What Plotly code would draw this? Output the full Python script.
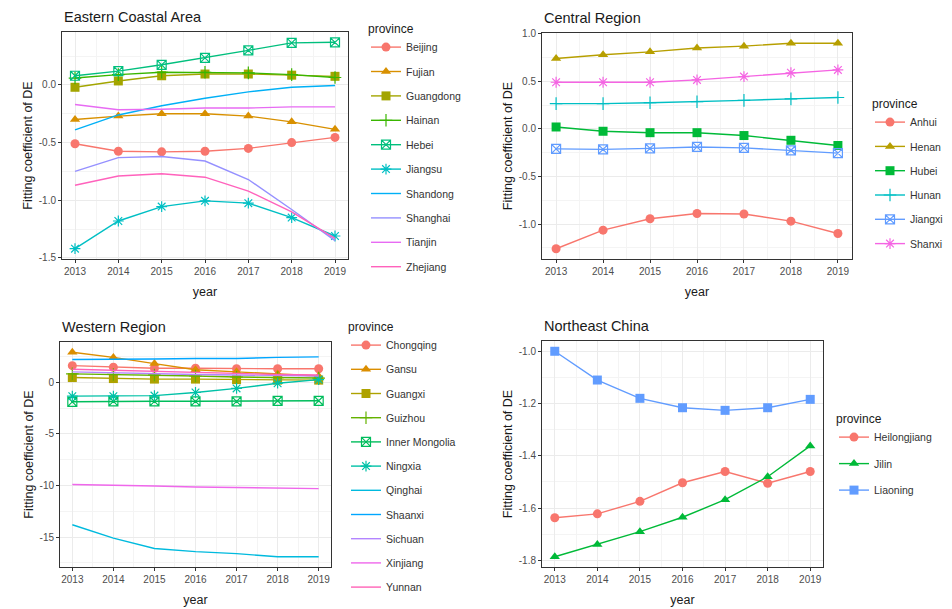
import plotly.graph_objects as go

W, H = 952, 609
years = [2013, 2014, 2015, 2016, 2017, 2018, 2019]

# Eastern Coastal Area
east_names = ["Beijing", "Fujian", "Guangdong", "Hainan", "Hebei", "Jiangsu",
              "Shandong", "Shanghai", "Tianjin", "Zhejiang"]
beijing = [-0.51, -0.575, -0.58, -0.575, -0.55, -0.50, -0.455]
fujian = [-0.30, -0.27, -0.25, -0.25, -0.27, -0.32, -0.385]
guangdong = [-0.02, 0.035, 0.08, 0.095, 0.095, 0.085, 0.075]
hainan = [0.06, 0.09, 0.11, 0.11, 0.105, 0.09, 0.065]
hebei = [0.08, 0.12, 0.175, 0.235, 0.30, 0.365, 0.37]
jiangsu = [-1.42, -1.18, -1.055, -1.005, -1.025, -1.15, -1.31]
shandong = [-0.39, -0.26, -0.18, -0.115, -0.06, -0.02, -0.005]
shanghai = [-0.75, -0.63, -0.62, -0.66, -0.82, -1.08, -1.35]
tianjin = [-0.17, -0.215, -0.21, -0.20, -0.20, -0.19, -0.19]
zhejiang = [-0.87, -0.79, -0.77, -0.80, -0.92, -1.10, -1.33]
east_vals = [beijing, fujian, guangdong, hainan, hebei, jiangsu,
             shandong, shanghai, tianjin, zhejiang]
east_ticks = [-1.5, -1.0, -0.5, 0.0]
east_tick_labels = ["-1.5", "-1.0", "-0.5", "0.0"]

# Central Region
central_names = ["Anhui", "Henan", "Hubei", "Hunan", "Jiangxi", "Shanxi"]
anhui = [-1.26, -1.065, -0.945, -0.89, -0.895, -0.97, -1.10]
henan = [0.74, 0.78, 0.81, 0.85, 0.87, 0.90, 0.90]
hubei = [0.02, -0.025, -0.04, -0.04, -0.07, -0.12, -0.175]
hunan = [0.265, 0.265, 0.275, 0.285, 0.30, 0.315, 0.33]
jiangxi = [-0.21, -0.215, -0.205, -0.19, -0.20, -0.225, -0.255]
shanxi = [0.49, 0.49, 0.49, 0.515, 0.55, 0.59, 0.62]
central_vals = [anhui, henan, hubei, hunan, jiangxi, shanxi]
central_ticks = [-1.0, -0.5, 0.0, 0.5, 1.0]
central_tick_labels = ["-1.0", "-0.5", "0.0", "0.5", "1.0"]

# Western Region
west_names = ["Chongqing", "Gansu", "Guangxi", "Guizhou", "Inner Mongolia", "Ningxia",
              "Qinghai", "Shaanxi", "Sichuan", "Xinjiang", "Yunnan"]
chongqing = [1.6, 1.45, 1.35, 1.35, 1.3, 1.3, 1.3]
gansu = [2.9, 2.4, 1.8, 1.2, 1.0, 0.8, 0.6]
guangxi = [0.45, 0.35, 0.3, 0.3, 0.25, 0.2, 0.2]
guizhou = [0.8, 0.75, 0.7, 0.6, 0.5, 0.45, 0.4]
inner_mongolia = [-1.9, -1.85, -1.85, -1.85, -1.85, -1.8, -1.8]
ningxia = [-1.35, -1.35, -1.3, -1.0, -0.6, -0.1, 0.25]
qinghai = [-13.8, -15.1, -16.1, -16.4, -16.6, -16.9, -16.9]
shaanxi = [2.2, 2.2, 2.25, 2.3, 2.3, 2.4, 2.45]
sichuan = [1.0, 0.9, 0.85, 0.75, 0.7, 0.65, 0.6]
xinjiang = [-9.9, -9.95, -10.05, -10.15, -10.2, -10.25, -10.3]
yunnan = [1.25, 1.15, 1.05, 0.9, 0.8, 0.75, 0.7]
west_vals = [chongqing, gansu, guangxi, guizhou, inner_mongolia, ningxia,
             qinghai, shaanxi, sichuan, xinjiang, yunnan]
west_ticks = [-15, -10, -5, 0]
west_tick_labels = ["-15", "-10", "-5", "0"]

# Northeast China
ne_names = ["Heilongjiang", "Jilin", "Liaoning"]
heilongjiang = [-1.637, -1.622, -1.574, -1.503, -1.46, -1.505, -1.46]
jilin = [-1.786, -1.739, -1.69, -1.635, -1.568, -1.48, -1.362]
liaoning = [-1.0, -1.11, -1.18, -1.216, -1.226, -1.216, -1.184]
ne_vals = [heilongjiang, jilin, liaoning]
ne_ticks = [-1.8, -1.6, -1.4, -1.2, -1.0]
ne_tick_labels = ["-1.8", "-1.6", "-1.4", "-1.2", "-1.0"]

# ggplot2-style hue palettes
pal10 = ["#F8766D", "#D89000", "#A3A500", "#39B600", "#00BF7D",
         "#00BFC4", "#00B0F6", "#9590FF", "#E76BF3", "#FF62BC"]
pal6 = ["#F8766D", "#B79F00", "#00BA38", "#00BFC4", "#619CFF", "#F564E3"]
pal11 = ["#F8766D", "#DB8E00", "#AEA200", "#64B200", "#00BD5C", "#00C1A7",
         "#00BADE", "#00A6FF", "#B385FF", "#EF67EB", "#FF63B6"]
pal3 = ["#F8766D", "#00BA38", "#619CFF"]
# default shape sequence; only the first six series get a point symbol
shapes = ["circle", "triangle-up", "square", "cross-thin-open",
          "square-x-open", "asterisk-open"]

FONT = "Liberation Sans, Arial, sans-serif"


def px_x(p):
    return p / W


def px_y(p):
    return 1 - p / H


panels = [
    # names, values, palette, axis suffix, x px span, y px span, title,
    # legend position, y ticks, y tick labels, minor step, legend gap
    (east_names, east_vals, pal10, "", (62, 348), (32, 259), "Eastern Coastal Area",
     (366, 17), east_ticks, east_tick_labels, 0.25, 5.4),
    (central_names, central_vals, pal6, "2", (542, 852), (33, 259), "Central Region",
     (870, 92), central_ticks, central_tick_labels, 0.25, 5.3),
    (west_names, west_vals, pal11, "3", (60, 331), (342, 567), "Western Region",
     (346, 315), west_ticks, west_tick_labels, 2.5, 5.2),
    (ne_names, ne_vals, pal3, "4", (542, 823), (341, 567), "Northeast China",
     (834, 407), ne_ticks, ne_tick_labels, 0.1, 7.5),
]

fig = go.Figure()
annotations = []
layout_extra = {}

for i, (names, vals, pal, sfx, xr, yr, title, lpos, ticks, tlabels, mstep, gap) in enumerate(panels):
    legend_id = "legend" if i == 0 else f"legend{i + 1}"
    for j, (nm, v) in enumerate(zip(names, vals)):
        has_marker = j < len(shapes)
        sym = shapes[j] if has_marker else "circle"
        open_sym = sym.endswith("-open")
        fig.add_trace(go.Scatter(
            x=years, y=v, name=nm,
            mode="lines+markers" if has_marker else "lines",
            line=dict(color=pal[j], width=1.4),
            marker=dict(symbol=sym, size=9, color=pal[j],
                        line=dict(color=pal[j], width=1.2 if open_sym else 0)),
            xaxis="x" + sfx, yaxis="y" + sfx,
            legend=legend_id, legendgroup=f"{i}-{j}",
        ))
    lo = min(min(v) for v in vals)
    hi = max(max(v) for v in vals)
    pad = (hi - lo) * 0.05
    xa = dict(
        domain=[px_x(xr[0]), px_x(xr[1])], range=[2012.7, 2019.3],
        anchor="y" + sfx, tickmode="array", tickvals=years,
        ticktext=[str(y) for y in years],
        showline=True, mirror=True, linecolor="#333333", linewidth=1,
        showgrid=True, gridcolor="#EBEBEB", gridwidth=1,
        minor=dict(tickmode="linear", dtick=0.5, tick0=2012.5, showgrid=True,
                   gridcolor="#F4F4F4", gridwidth=0.5),
        ticks="outside", ticklen=3, tickcolor="#333333",
        tickfont=dict(family=FONT, size=10, color="#4D4D4D"),
        title=dict(text="year", font=dict(family=FONT, size=12.5, color="#1a1a1a"), standoff=11),
        zeroline=False, automargin=False,
    )
    ya = dict(
        domain=[px_y(yr[1]), px_y(yr[0])], range=[lo - pad, hi + pad],
        anchor="x" + sfx, tickmode="array", tickvals=ticks, ticktext=tlabels,
        showline=True, mirror=True, linecolor="#333333", linewidth=1,
        showgrid=True, gridcolor="#EBEBEB", gridwidth=1,
        minor=dict(tickmode="linear", tick0=0, dtick=mstep, showgrid=True,
                   gridcolor="#F4F4F4", gridwidth=0.5),
        ticks="outside", ticklen=3, tickcolor="#333333",
        tickfont=dict(family=FONT, size=10, color="#4D4D4D"),
        title=dict(text="Fitting coefficient of DE",
                   font=dict(family=FONT, size=12.5, color="#1a1a1a"), standoff=3),
        zeroline=False, automargin=False,
    )
    layout_extra["xaxis" + sfx] = xa
    layout_extra["yaxis" + sfx] = ya
    layout_extra[legend_id] = dict(
        x=px_x(lpos[0]), y=px_y(lpos[1]), xanchor="left", yanchor="top",
        title=dict(text="province", font=dict(family=FONT, size=12, color="#1a1a1a")),
        font=dict(family=FONT, size=10.5, color="#333333"),
        bgcolor="rgba(0,0,0,0)", itemwidth=30, tracegroupgap=gap,
        traceorder="grouped",
    )
    annotations.append(dict(
        text=title, x=px_x(xr[0]), y=px_y(yr[0] - 5), xref="paper", yref="paper",
        xanchor="left", yanchor="bottom", showarrow=False,
        font=dict(family=FONT, size=14.5, color="#1a1a1a"),
    ))

fig.update_layout(
    width=W, height=H, margin=dict(l=0, r=0, t=0, b=0, autoexpand=False),
    paper_bgcolor="white", plot_bgcolor="white",
    annotations=annotations, showlegend=True,
    **layout_extra,
)

fig.write_html("out.html")
